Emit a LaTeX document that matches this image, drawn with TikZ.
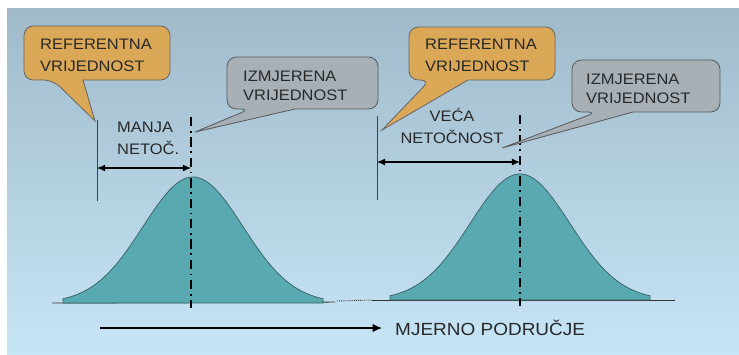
\documentclass[tikz,border=0pt]{standalone}
\usepackage{fontspec}
\setmainfont{Liberation Sans}[FakeStretch=1.08]
\usetikzlibrary{arrows.meta}

\definecolor{bgtop}{RGB}{160,186,202}
\definecolor{bgbot}{RGB}{198,229,246}
\definecolor{callorange}{RGB}{218,168,86}
\definecolor{callgrey}{RGB}{166,176,182}
\definecolor{gausfill}{RGB}{88,170,176}
\definecolor{gausline}{RGB}{55,95,100}
\definecolor{txt}{RGB}{40,40,40}

\begin{document}
\begin{tikzpicture}[x=0.03cm, y=-0.03cm]
    \tikzset{
        refcall/.style = {fill = callorange, draw = gray!80!black, line width = 0.7pt},
        meascall/.style = {fill = callgrey, draw = gray!70!black, line width = 0.7pt},
        lbl/.style = {inner sep = 0, text = txt, font = \fontsize{13}{18}\selectfont, align = left, anchor = base west},
        gauss/.style = {fill = gausfill, draw = gausline, line width = 0.6pt},
        refline/.style = {draw = black!75, line width = 0.8pt},
        midline/.style = {line width = 1.8pt, dash pattern = on 8pt off 4pt on 1.4pt off 4pt},
        span/.style = {line width = 0.9pt, {Latex[length=7pt,width=6pt]}-{Latex[length=7pt,width=6pt]}}
    }
    % background
    \fill[white] (0,0) rectangle (739,354);
    \shade[top color = bgtop, bottom color = bgbot] (7,8) rectangle (739,354);

    % axis
    \draw[black!80, line width = 0.8pt] (52,303) -- (335,302);
    \draw[black!80, line width = 0.8pt, densely dotted] (337,301) -- (372,300);
    \draw[black!80, line width = 0.8pt] (372,300) -- (675,300);

    % the two curves
    \draw[gauss] (63,303) -- plot[domain = -130:130, samples = 90] ({193+\x}, {303-126*exp(-0.5*(\x/50)^2)}) -- (323,303) -- cycle;
    \draw[gauss] (390,300) -- plot[domain = -130:130, samples = 90] ({520+\x}, {300-126*exp(-0.5*(\x/50)^2)}) -- (650,300) -- cycle;

    % left case
    \coordinate (ref1top) at (97,120);
    \coordinate (ref1bot) at (97,201);
    \coordinate (mid1top) at (191,117);
    \coordinate (mid1bot) at (191,308);
    \coordinate (ref1) at (97,168);
    \coordinate (mes1) at (191,168);
    \draw[refline] (ref1top) -- (ref1bot);
    \draw[midline] (mid1top) -- (mid1bot);
    \draw[span] (ref1) -- (mes1);
    \node[lbl] (manja) at (117,154) {MANJA\\NETOČ.};

    % right case
    \coordinate (ref2top) at (377,116);
    \coordinate (ref2bot) at (377,200);
    \coordinate (mid2top) at (520,115);
    \coordinate (mid2bot) at (520,306);
    \coordinate (ref2) at (377,162);
    \coordinate (mes2) at (520,162);
    \draw[refline] (ref2top) -- (ref2bot);
    \draw[midline] (mid2top) -- (mid2bot);
    \draw[span] (ref2) -- (mes2);
    \node[lbl, align = center, anchor = base] (veca) at (452,143) {VEĆA\\NETOČNOST};

    % callouts
    \coordinate (tipref1) at (95,121);
    \coordinate (tipmes1) at (195,132);
    \coordinate (tipref2) at (382,130);
    \coordinate (tipmes2) at (502,148);
    \draw[refcall] (53,80) -- (tipref1) -- (83,80) [rounded corners = 8pt] -- (170,80) -- (170,26) -- (24,26) -- (24,80) -- cycle;
    \draw[meascall] (250,109) -- (tipmes1) -- (295,109) [rounded corners = 8pt] -- (378,109) -- (378,57) -- (227,57) -- (227,109) -- cycle;
    \draw[refcall] (430,80) -- (tipref2) -- (468,80) [rounded corners = 8pt] -- (555,80) -- (555,27) -- (409,27) -- (409,80) -- cycle;
    \draw[meascall] (597,112) -- (tipmes2) -- (633,112) [rounded corners = 8pt] -- (720,112) -- (720,60) -- (572,60) -- (572,112) -- cycle;
    \node[lbl] (refval1) at (40,71) {REFERENTNA\\VRIJEDNOST};
    \node[lbl, font = \fontsize{13}{15.5}\selectfont] (mesval1) at (243,100) {IZMJERENA\\VRIJEDNOST};
    \node[lbl] (refval2) at (425,71) {REFERENTNA\\VRIJEDNOST};
    \node[lbl, font = \fontsize{13}{15.5}\selectfont] (mesval2) at (586,103) {IZMJERENA\\VRIJEDNOST};

    % range
    \coordinate (rangestart) at (100,328);
    \coordinate (rangeend) at (382,328);
    \draw[line width = 0.9pt, -{Latex[length=8pt,width=7pt]}] (rangestart) -- (rangeend);
    \node[lbl, font = \fontsize{15}{18}\selectfont] (podrucje) at (395,335) {MJERNO PODRUČJE};
\end{tikzpicture}
\end{document}
